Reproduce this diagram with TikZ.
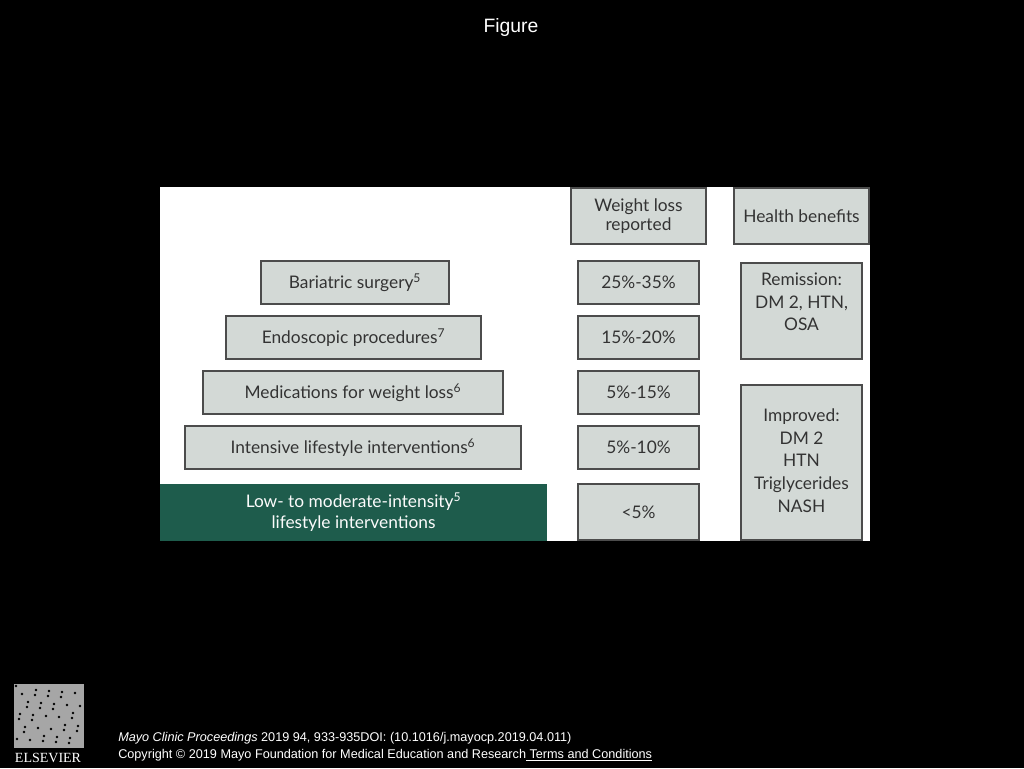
\documentclass[tikz,border=0pt]{standalone}
\usepackage{fontspec}
\setmainfont{Lato}
\newfontfamily\foot{Liberation Sans}
\newfontfamily\logofont{Liberation Serif}
\begin{document}
\begin{tikzpicture}[x=0.75pt,y=-0.75pt,
 bx/.style={draw=black!70,line width=0.9pt,fill=gbox,text=black!80,font=\fontsize{13}{14}\selectfont,align=center,inner sep=0pt},
 ft/.style={text=white,font=\foot\fontsize{9.5}{10}\selectfont,anchor=west,inner sep=0pt}]
\definecolor{gbox}{HTML}{D3D9D6}
\definecolor{dgreen}{HTML}{1E5C4C}
\fill[black] (0,0) rectangle (1024,768);
\useasboundingbox (0,0) rectangle (1024,768);
\node[text=white,font=\foot\fontsize{14.5}{16}\selectfont] (title) at (511,27) {Figure};
\fill[white] (160,187) rectangle (870,541);
\newcommand\bxat[6]{\node[bx,minimum width={(#3-#1)*0.75pt},minimum height={(#4-#2)*0.75pt}] (#5) at ({(#1+#3)/2},{(#2+#4)/2}) {#6};}
\bxat{571}{188}{706}{244}{wl}{Weight loss\\reported}
\bxat{734}{188}{869}{244}{hb}{Health benefits}
\bxat{261}{261}{449}{304}{b1}{Bariatric surgery\textsuperscript{5}}
\bxat{226}{316}{481}{359}{b2}{Endoscopic procedures\textsuperscript{7}}
\bxat{203}{371}{503}{414}{b3}{Medications for weight loss\textsuperscript{6}}
\bxat{185}{426}{521}{469}{b4}{Intensive lifestyle interventions\textsuperscript{6}}
\node[fill=dgreen,text=white!90!gbox,font=\fontsize{13}{16}\selectfont,align=center,minimum width={387*0.75pt},minimum height={57*0.75pt},inner sep=0pt] (b5) at (353.5,512.5) {Low- to moderate-intensity\textsuperscript{5}\\lifestyle interventions};
\bxat{578}{261}{699}{304}{p1}{25\%-35\%}
\bxat{578}{316}{699}{359}{p2}{15\%-20\%}
\bxat{578}{371}{699}{414}{p3}{5\%-15\%}
\bxat{578}{426}{699}{469}{p4}{5\%-10\%}
\bxat{578}{484}{699}{540}{p5}{<5\%}
\bxat{741}{263}{862}{359}{r1}{}
\node[font=\fontsize{13}{17}\selectfont,text=black!80,align=center,anchor=north] (r1t) at (801.5,268) {Remission:\\DM 2, HTN,\\OSA};
\bxat{741}{385}{862}{540}{r2}{}
\node[font=\fontsize{13}{17}\selectfont,text=black!80,align=center,anchor=north] (r2t) at (801.5,404) {Improved:\\DM 2\\HTN\\Triglycerides\\NASH};
% logo
\fill[gray!70] (14,684) rectangle (84,748);
\foreach \i in {0,...,40}{\pgfmathsetmacro\xx{16+mod(\i*37,66)}\pgfmathsetmacro\yy{686+mod(\i*23,58)}\fill[black] (\xx,\yy) circle (1.3);}
\node[text=white,font=\logofont\fontsize{10.5}{11}\selectfont,inner sep=0pt] (logo) at (48,758) {ELSEVIER};
\node[ft] (f1) at (118,738) {\itshape Mayo Clinic Proceedings\upshape{} 2019 94, 933-935DOI: (10.1016/j.mayocp.2019.04.011)};
\node[ft] (f2) at (118,755) {Copyright © 2019 Mayo Foundation for Medical Education and Research\underline{ Terms and Conditions}};
\end{tikzpicture}
\end{document}
